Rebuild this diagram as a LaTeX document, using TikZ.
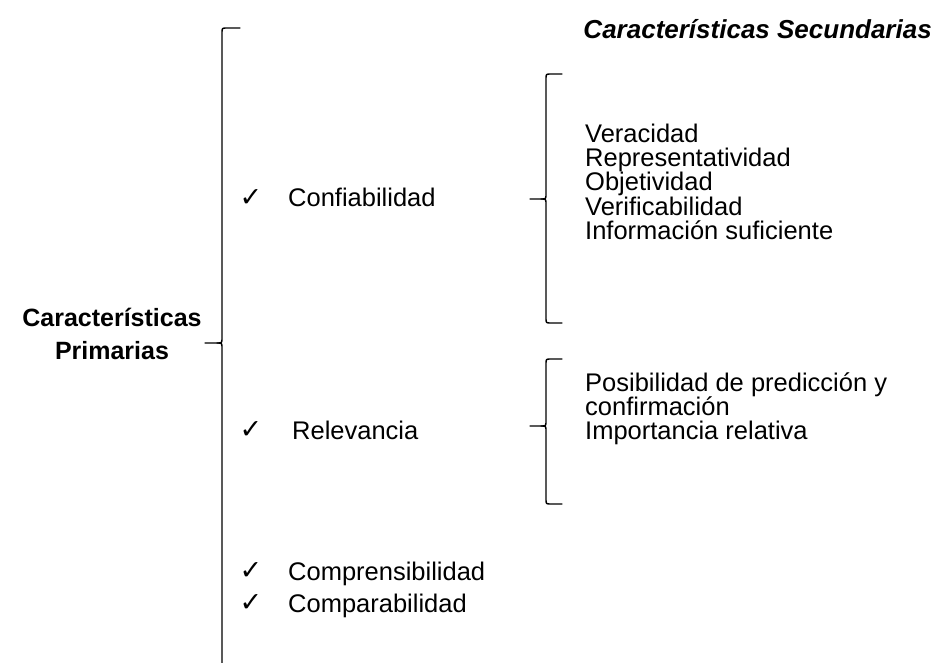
\documentclass[tikz,border=0pt]{standalone}
\usepackage{fontspec}
\setmainfont{Liberation Sans}
\newfontfamily\symfont{DejaVu Sans}
\begin{document}
\begin{tikzpicture}[x=1pt,y=-1pt,
  txt/.style={anchor=base west,inner sep=0pt,font=\fontsize{25.5}{24}\selectfont},
  chk/.style={anchor=center,inner sep=0pt,font=\symfont\fontsize{27}{28}\selectfont},
  bold/.style={inner sep=0pt,font=\fontsize{25}{33}\selectfont\bfseries,align=center},
  brace/.style={line width=1.4pt,line cap=round}]
\useasboundingbox (0,0) rectangle (937,663);
\fill[white] (0,0) rectangle (937,663);

% titles
\node[inner sep=0pt,anchor=base east,font=\fontsize{26}{24}\selectfont\bfseries\itshape] (sec) at (932,39) {Características Secundarias};
\node[bold,anchor=base] (prim1) at (112,326) {Características};
\node[bold,anchor=base] (prim2) at (112,359) {Primarias};

% primary items
\node[chk] (c1) at (251,198) {✓};
\node[txt] (conf) at (288,207) {Confiabilidad};
\node[chk] (c2) at (251,430) {✓};
\node[txt] (rel) at (292,439) {Relevancia};
\node[chk] (c3) at (251,571) {✓};
\node[txt] (comp) at (288,580) {Comprensibilidad};
\node[chk] (c4) at (251,603) {✓};
\node[txt] (compa) at (288,612) {Comparabilidad};

% secondary items
\node[txt] (v1) at (585,143) {Veracidad};
\node[txt] (v2) at (585,167) {Representatividad};
\node[txt] (v3) at (585,191) {Objetividad};
\node[txt] (v4) at (585,216) {Verificabilidad};
\node[txt] (v5) at (585,240) {Información suficiente};
\node[txt] (p1) at (585,391) {Posibilidad de predicción y};
\node[txt] (p2) at (585,415) {confirmación};
\node[txt] (p3) at (585,439) {Importancia relativa};

% big brace
\draw[brace] (240,28) -- (227,28) .. controls (222,28) .. (222,33)
  -- (222,338) .. controls (222,343) .. (217,343) -- (205,343);
\draw[brace] (217,343) .. controls (222,343) .. (222,348) -- (222,663);

% brace 1
\draw[brace] (562,74) -- (551,74) .. controls (546,74) .. (546,79)
  -- (546,194) .. controls (546,199) .. (541,199) -- (530,199);
\draw[brace] (541,199) .. controls (546,199) .. (546,204) -- (546,318)
  .. controls (546,323) .. (551,323) -- (562,323);

% brace 2
\draw[brace] (562,359) -- (551,359) .. controls (546,359) .. (546,364)
  -- (546,421) .. controls (546,426) .. (541,426) -- (530,426);
\draw[brace] (541,426) .. controls (546,426) .. (546,431) -- (546,499)
  .. controls (546,504) .. (551,504) -- (562,504);
\end{tikzpicture}
\end{document}
